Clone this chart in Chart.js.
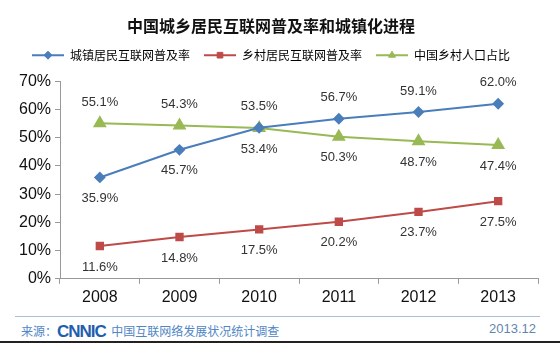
<!DOCTYPE html>
<html>
<head>
<meta charset="utf-8">
<script src="https://cdn.jsdelivr.net/npm/chart.js@4.4.0/dist/chart.umd.min.js"></script>
<style>
    html, body { margin: 0; padding: 0; background: #fff; }
    #wrap { position: relative; width: 560px; height: 343px; overflow: hidden; }
    #chartBox { position: absolute; left: 0; top: 0; width: 560px; height: 311px; }
    #footer {
        position: absolute; left: 15px; top: 316px; width: 525px;
        border-top: 1px solid #a9c0d8;
        font-family: "Noto Sans CJK SC", sans-serif; font-size: 12px;
    }
    #footer .src { position: absolute; left: 6px; top: 4px; color: #4f86c6; }
    #footer .logo { font-family: "Liberation Sans", Arial, sans-serif; font-weight: bold; font-size: 17px; color: #1f5fae; letter-spacing: -1px; position: relative; top: 1px; }
    #footer .date { position: absolute; right: 4px; top: 4px; color: #5f86b0; font-family: "Liberation Sans", Arial, sans-serif; font-size: 13px; }
    #bottomBar { position: absolute; left: 0; top: 341px; width: 560px; height: 2px; background: #222; }
</style>
</head>
<body>
<div id="wrap">
    <div id="chartBox"><canvas id="chart"></canvas></div>
    <div id="footer">
        <span class="src">来源：<span class="logo">CNNIC</span>&nbsp; 中国互联网络发展状况统计调查</span>
        <span class="date">2013.12</span>
    </div>
    <div id="bottomBar"></div>
</div>
<script>
    // Chart data
    const years = ['2008', '2009', '2010', '2011', '2012', '2013'];
    const urbanRate = [35.9, 45.7, 53.5, 56.7, 59.1, 62.0];
    const ruralRate = [11.6, 14.8, 17.5, 20.2, 23.7, 27.5];
    const ruralPopShare = [55.1, 54.3, 53.4, 50.3, 48.7, 47.4];

    // label placement per point: 'above' or 'below'
    const urbanLabelPos = ['below', 'below', 'above', 'above', 'above', 'above'];
    const ruralLabelPos = ['below', 'below', 'below', 'below', 'below', 'below'];
    const popLabelPos = ['above', 'above', 'below', 'below', 'below', 'below'];

    const seriesNames = ['城镇居民互联网普及率', '乡村居民互联网普及率', '中国乡村人口占比'];
    const colors = ['#4a7ebb', '#be4b48', '#98b954'];

    // Draws the value labels next to each point
    const valueLabels = {
        id: 'valueLabels',
        afterDatasetsDraw(chart) {
            const ctx = chart.ctx;
            const positions = [urbanLabelPos, ruralLabelPos, popLabelPos];
            ctx.save();
            ctx.font = '13px "Liberation Sans", Arial, sans-serif';
            ctx.fillStyle = '#333';
            ctx.textAlign = 'center';
            ctx.textBaseline = 'middle';
            chart.data.datasets.forEach((ds, i) => {
                const meta = chart.getDatasetMeta(i);
                meta.data.forEach((pt, j) => {
                    const dy = positions[i][j] === 'above' ? -21 : 21;
                    ctx.fillText(ds.data[j].toFixed(1) + '%', pt.x, pt.y + dy);
                });
            });
            ctx.restore();
        }
    };

    // Adds some room between the legend and the plot
    const legendGap = {
        id: 'legendGap',
        beforeInit(chart) {
            const origFit = chart.legend.fit;
            chart.legend.fit = function() {
                origFit.bind(chart.legend)();
                this.height += 10;
            };
        }
    };

    // Puts the series marker on top of each legend line
    const legendMarkers = {
        id: 'legendMarkers',
        afterDraw(chart) {
            const legend = chart.legend;
            if (!legend || !legend.legendHitBoxes) return;
            const ctx = chart.ctx;
            const styles = ['rectRot', 'rect', 'triangle'];
            legend.legendHitBoxes.forEach((box, i) => {
                const cx = box.left + 16;
                const cy = box.top + box.height / 2;
                ctx.fillStyle = colors[i];
                ctx.strokeStyle = colors[i];
                Chart.helpers.drawPoint(ctx, {
                    pointStyle: styles[i],
                    radius: 4,
                    borderWidth: 1
                }, cx, cy);
            });
        }
    };

    function makeDataset(label, data, color, style) {
        return {
            label: label,
            data: data,
            borderColor: color,
            backgroundColor: color,
            borderWidth: 2,
            pointStyle: style,
            pointRadius: style === 'triangle' ? 6 : 4.5,
            pointBackgroundColor: color,
            pointBorderColor: color,
            tension: 0
        };
    }

    new Chart(document.getElementById('chart'), {
        type: 'line',
        data: {
            labels: years,
            datasets: [
                makeDataset(seriesNames[0], urbanRate, colors[0], 'rectRot'),
                makeDataset(seriesNames[1], ruralRate, colors[1], 'rect'),
                makeDataset(seriesNames[2], ruralPopShare, colors[2], 'triangle')
            ]
        },
        options: {
            responsive: true,
            maintainAspectRatio: false,
            animation: false,
            layout: { padding: { left: 4, right: 22, top: 16, bottom: 0 } },
            plugins: {
                title: {
                    display: true,
                    text: '中国城乡居民互联网普及率和城镇化进程',
                    color: '#111',
                    font: { family: '"Noto Sans CJK SC", sans-serif', size: 16, weight: 'bold' },
                    padding: { top: 0, bottom: 0 }
                },
                legend: {
                    display: true,
                    labels: {
                        color: '#222',
                        font: { family: '"Noto Sans CJK SC", sans-serif', size: 12 },
                        boxWidth: 32,
                        boxHeight: 2,
                        padding: 14,
                        generateLabels(chart) {
                            return chart.data.datasets.map((ds, i) => ({
                                text: ds.label,
                                fillStyle: colors[i],
                                strokeStyle: colors[i],
                                lineWidth: 0,
                                datasetIndex: i
                            }));
                        }
                    }
                },
                tooltip: { enabled: false }
            },
            scales: {
                x: {
                    offset: true,
                    grid: {
                        offset: true,
                        drawOnChartArea: false,
                        drawTicks: true,
                        tickLength: 5,
                        color: '#999'
                    },
                    border: { color: '#999' },
                    ticks: {
                        color: '#111',
                        font: { family: '"Liberation Sans", Arial, sans-serif', size: 16 },
                        padding: 4
                    }
                },
                y: {
                    min: 0,
                    max: 70,
                    afterFit(scale) { scale.width = 56; },
                    grid: {
                        drawOnChartArea: false,
                        drawTicks: true,
                        tickLength: 5,
                        color: '#999'
                    },
                    border: { color: '#999' },
                    ticks: {
                        stepSize: 10,
                        color: '#111',
                        font: { family: '"Liberation Sans", Arial, sans-serif', size: 16 },
                        padding: 4,
                        callback: v => v + '%'
                    }
                }
            }
        },
        plugins: [valueLabels, legendGap, legendMarkers]
    });
</script>
</body>
</html>
